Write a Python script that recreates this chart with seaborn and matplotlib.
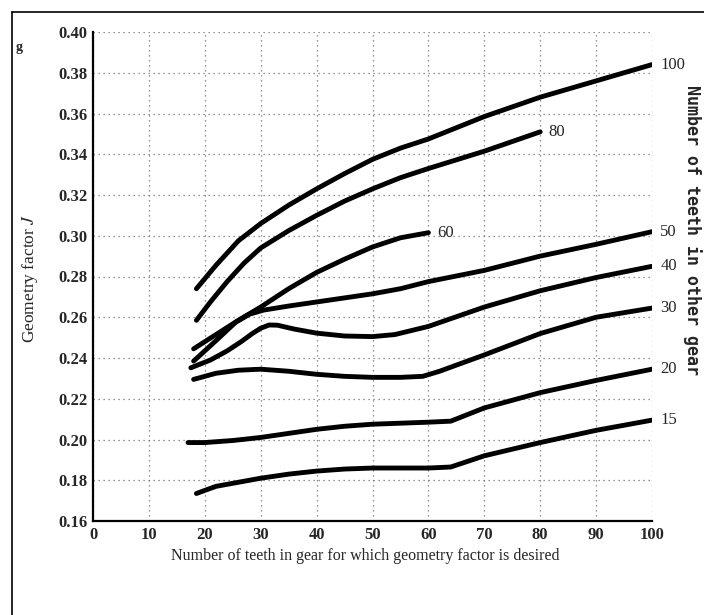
import numpy as np
import pandas as pd
import seaborn as sns
import matplotlib.pyplot as plt
from matplotlib.lines import Line2D

# one curve per tooth count of the mating gear: x = teeth in this gear, j = geometry factor J
x_100 = [18.5, 22, 26, 30, 35, 40, 45, 50, 55, 60, 70, 80, 90, 100]
j_100 = [0.274, 0.2855, 0.2975, 0.306, 0.315, 0.323, 0.3305, 0.3375, 0.343, 0.3475, 0.3585, 0.368, 0.376, 0.384]

x_80 = [18.5, 21, 24, 27, 30, 35, 40, 45, 50, 55, 60, 70, 80]
j_80 = [0.2585, 0.2675, 0.2775, 0.2865, 0.294, 0.3025, 0.310, 0.317, 0.323, 0.3285, 0.333, 0.3415, 0.351]

x_60 = [18, 22, 26, 30, 35, 40, 45, 50, 55, 60]
j_60 = [0.2445, 0.2515, 0.2585, 0.265, 0.274, 0.282, 0.2885, 0.2945, 0.299, 0.3015]

x_50 = [18, 22, 25.5, 28, 30.5, 35, 40, 45, 50, 55, 60, 70, 80, 90, 100]
j_50 = [0.2385, 0.2485, 0.2575, 0.2615, 0.2635, 0.2655, 0.2675, 0.2695, 0.2715, 0.274, 0.2775, 0.283, 0.290, 0.2958, 0.302]

x_40 = [17.5, 21, 24, 26.5, 28.5, 30, 31.5, 33, 36, 40, 45, 50, 54, 60, 70, 80, 90, 100]
j_40 = [0.2352, 0.239, 0.2435, 0.248, 0.252, 0.2546, 0.2562, 0.2561, 0.2542, 0.2522, 0.2508, 0.2505, 0.2515, 0.2555, 0.265, 0.273, 0.2795, 0.285]

x_30 = [18, 22, 26, 30, 35, 40, 45, 50, 55, 59, 62, 70, 80, 90, 100]
j_30 = [0.2295, 0.2325, 0.234, 0.2345, 0.2335, 0.232, 0.231, 0.2305, 0.2305, 0.231, 0.2335, 0.2415, 0.252, 0.260, 0.2645]

x_20 = [17, 20, 25, 30, 35, 40, 45, 50, 55, 60, 64, 70, 80, 90, 100]
j_20 = [0.1985, 0.1985, 0.1995, 0.201, 0.203, 0.205, 0.2065, 0.2075, 0.208, 0.2085, 0.209, 0.2155, 0.223, 0.229, 0.2345]

x_15 = [18.5, 22, 26, 30, 35, 40, 45, 50, 55, 60, 64, 70, 80, 90, 100]
j_15 = [0.1735, 0.177, 0.179, 0.181, 0.183, 0.1845, 0.1855, 0.186, 0.186, 0.186, 0.1865, 0.192, 0.1985, 0.2045, 0.2095]

other_teeth = ["100", "80", "60", "50", "40", "30", "20", "15"]
x_tick_labels = ["0", "10", "20", "30", "40", "50", "60", "70", "80", "90", "100"]
y_tick_labels = ["0.16", "0.18", "0.20", "0.22", "0.24", "0.26", "0.28", "0.30", "0.32", "0.34", "0.36", "0.38", "0.40"]

curves = {
    "100": (x_100, j_100), "80": (x_80, j_80), "60": (x_60, j_60), "50": (x_50, j_50),
    "40": (x_40, j_40), "30": (x_30, j_30), "20": (x_20, j_20), "15": (x_15, j_15),
}
rows = []
for name in other_teeth:
    xs, js = curves[name]
    for a, b in zip(xs, js):
        rows.append({"other": name, "teeth": a, "J": b})
df = pd.DataFrame(rows)

sns.set_style("white")
plt.rcParams["font.family"] = ["Liberation Serif", "DejaVu Serif"]
plt.rcParams["mathtext.fontset"] = "stix"

fig = plt.figure(figsize=(7.04, 6.15), dpi=100)
ax = fig.add_axes([93 / 704, 1 - 521 / 615, (652 - 93) / 704, (521 - 32) / 615])

sns.lineplot(data=df, x="teeth", y="J", units="other", estimator=None, sort=True,
             color="black", lw=3.5, solid_capstyle="round", solid_joinstyle="round",
             ax=ax, legend=False)

ax.set_xlim(0, 100)
ax.set_ylim(0.16, 0.40)
ax.set_xticks([float(t) for t in x_tick_labels])
ax.set_xticklabels(x_tick_labels, fontsize=12, fontweight="bold")
ax.set_yticks([float(t) for t in y_tick_labels])
ax.set_yticklabels(y_tick_labels, fontsize=12, fontweight="bold")
ax.tick_params(length=0, pad=4)
ax.set_xlabel("")
ax.set_ylabel("")
ax.grid(True, linestyle=(0, (1, 3)), color="0.45", lw=0.9)

for s in ["top", "right"]:
    ax.spines[s].set_visible(False)
for s in ["left", "bottom"]:
    ax.spines[s].set_color("black")
    ax.spines[s].set_linewidth(1.6)

# curve labels at the line ends
for name in other_teeth:
    xs, js = curves[name]
    ax.text(xs[-1] + 1.5, js[-1], name, fontsize=12, va="center", ha="left", clip_on=False)

fig.text(30 / 704, 1 - 278 / 615, "Geometry factor $J$", rotation=90, ha="center", va="center", fontsize=12.5)
fig.text(365 / 704, 1 - 556 / 615, "Number of teeth in gear for which geometry factor is desired",
         ha="center", va="center", fontsize=11.5)
fig.text(692 / 704, 1 - 230 / 615, "Number of teeth in other gear", rotation=270, ha="center", va="center",
         family="DejaVu Sans Mono", fontweight="bold", fontsize=12)

# page edge from the scan
fig.add_artist(Line2D([12 / 704, 12 / 704], [0, 1 - 12 / 615], color="black", lw=1.2))
fig.add_artist(Line2D([12 / 704, 1], [1 - 12 / 615, 1 - 12 / 615], color="black", lw=1.2))
fig.text(16 / 704, 1 - 48 / 615, "g", fontsize=10, fontweight="bold", ha="left", va="center")

fig.savefig("out.png", dpi=100)
